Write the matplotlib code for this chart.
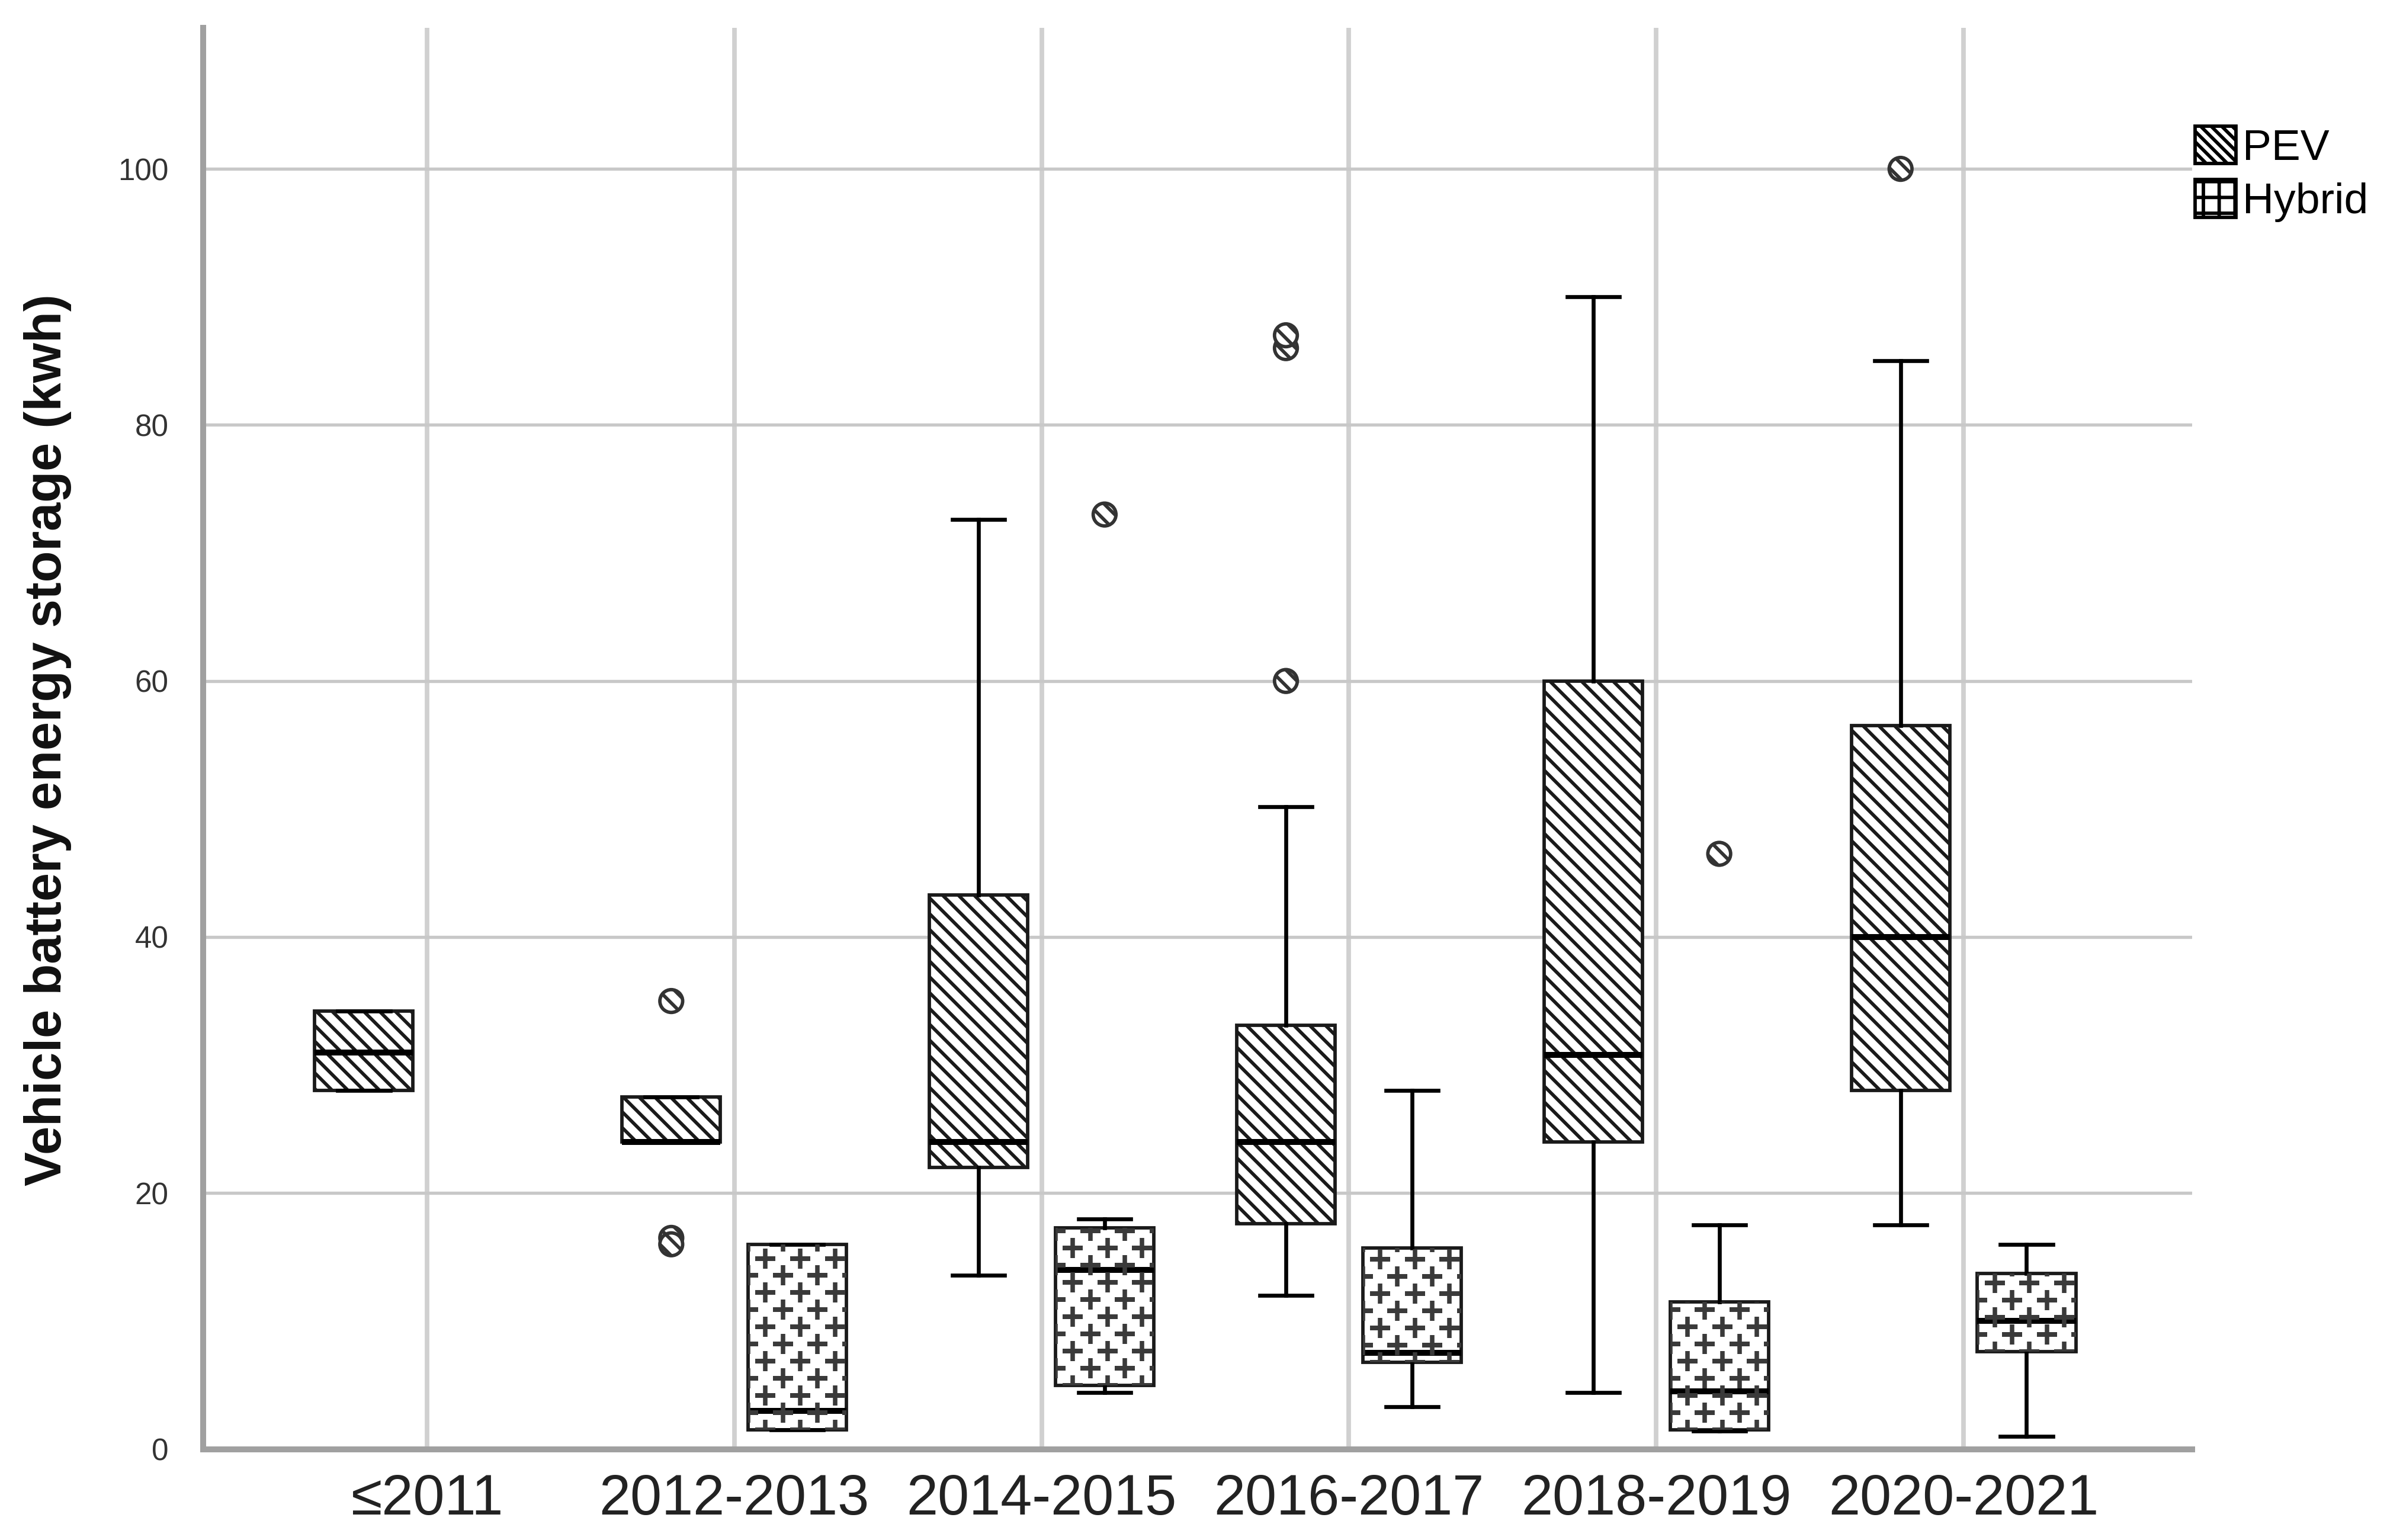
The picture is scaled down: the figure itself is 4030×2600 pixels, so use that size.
import numpy as np
import matplotlib
matplotlib.use("Agg")
import matplotlib.pyplot as plt
from matplotlib.patches import Patch

# data
categories = ["≤2011", "2012-2013", "2014-2015", "2016-2017", "2018-2019", "2020-2021"]

pev_q1 = [28.0, 24.0, 22.0, 17.6, 24.0, 28.0]
pev_med = [31.0, 24.0, 24.0, 24.0, 30.8, 40.0]
pev_q3 = [34.2, 27.5, 43.3, 33.1, 60.0, 56.5]
pev_lo = [28.0, 24.0, 13.6, 12.0, 4.4, 17.5]
pev_hi = [34.2, 27.5, 72.6, 50.2, 90.0, 85.0]
pev_out = [[], [35.0, 16.5, 16.0], [], [60.0, 86.0, 87.0], [], [100.0]]

hyb_q1 = [np.nan, 1.5, 5.0, 6.8, 1.5, 7.6]
hyb_med = [np.nan, 3.0, 14.0, 7.5, 4.5, 10.0]
hyb_q3 = [np.nan, 16.0, 17.3, 15.7, 11.5, 13.7]
hyb_lo = [np.nan, 1.5, 4.4, 3.3, 1.4, 1.0]
hyb_hi = [np.nan, 16.0, 18.0, 28.0, 17.5, 16.0]
hyb_out = [[], [], [73.0], [], [46.5], []]

series_names = ["PEV", "Hybrid"]

plt.rcParams["font.family"] = ["Liberation Sans", "DejaVu Sans"]
plt.rcParams["hatch.linewidth"] = 2.6
plt.rcParams["hatch.color"] = "#222222"

DPI = 160
fig = plt.figure(figsize=(4030 / DPI, 2600 / DPI), dpi=DPI)
ax = fig.add_axes([0.085, 0.059, 0.8334, 0.9228])

x = np.arange(len(categories))
offset = 0.205
box_w = 0.32


def make_stats(q1, med, q3, lo, hi):
    stats, pos = [], []
    for i in range(len(q1)):
        if np.isnan(q1[i]):
            continue
        stats.append(dict(q1=q1[i], med=med[i], q3=q3[i], whislo=lo[i], whishi=hi[i], fliers=[]))
        pos.append(i)
    return stats, np.array(pos)


common = dict(
    widths=box_w,
    capwidths=0.17,
    patch_artist=True,
    showfliers=False,
    whiskerprops=dict(color="black", linewidth=3.0),
    capprops=dict(color="black", linewidth=3.0),
    medianprops=dict(color="black", linewidth=4.5, solid_capstyle="butt"),
    manage_ticks=False,
)

# PEV boxes
st, pos = make_stats(pev_q1, pev_med, pev_q3, pev_lo, pev_hi)
bp_pev = ax.bxp(st, positions=pos - offset,
                boxprops=dict(facecolor="white", edgecolor="#1a1a1a", linewidth=2.6, hatch="\\\\"),
                **common)

# Hybrid boxes
st, pos = make_stats(hyb_q1, hyb_med, hyb_q3, hyb_lo, hyb_hi)
bp_hyb = ax.bxp(st, positions=pos + offset,
                boxprops=dict(facecolor="white", edgecolor="#1a1a1a", linewidth=2.6),
                **common)

# plus-sign texture inside hybrid boxes (clipped to each box)
dx, dy = 0.113, 1.34
for box, p in zip(bp_hyb["boxes"], pos + offset):
    verts = box.get_path().vertices
    y0, y1 = verts[:, 1].min(), verts[:, 1].max()
    px, py = [], []
    for r, yy in enumerate(np.arange(y0 - dy, y1 + dy, dy)):
        shift = 0.0 if r % 2 == 0 else dx / 2
        for xx in np.arange(p - box_w / 2 - dx + shift, p + box_w / 2 + dx, dx):
            px.append(xx)
            py.append(yy)
    pl, = ax.plot(px, py, linestyle="none", marker="+", markersize=15,
                  markeredgewidth=3.4, color="#3a3a3a", zorder=2.5)
    pl.set_clip_path(box)

# outliers
for i in range(len(categories)):
    if pev_out[i]:
        ax.scatter([x[i] - offset] * len(pev_out[i]), pev_out[i], s=300,
                   facecolors="white", edgecolors="#333333", linewidths=2.6,
                   hatch="\\\\", zorder=4)
    if hyb_out[i]:
        ax.scatter([x[i] + offset] * len(hyb_out[i]), hyb_out[i], s=300,
                   facecolors="white", edgecolors="#333333", linewidths=2.6,
                   hatch="\\\\", zorder=4)

ax.set_xlim(-0.729, 5.744)
ax.set_ylim(0, 111)
ax.set_xticks(x)
ax.set_xticklabels(categories, fontsize=43, color="#222222")
ax.set_yticks(np.arange(0, 101, 20))
ax.tick_params(axis="y", length=0, pad=26, labelsize=23, labelcolor="#333333")
ax.tick_params(axis="x", length=0, pad=18)

ax.set_axisbelow(True)
ax.grid(axis="y", color="#c8c8c8", linewidth=2.4)
ax.grid(axis="x", color="#d0d0d0", linewidth=3.5)

for s in ["top", "right"]:
    ax.spines[s].set_visible(False)
for s in ["left", "bottom"]:
    ax.spines[s].set_color("#a0a0a0")
    ax.spines[s].set_linewidth(4.5)

ax.set_ylabel("Vehicle battery energy storage (kwh)", fontweight="bold",
              fontsize=39, color="#111111")
ax.yaxis.set_label_coords(-0.066, 0.499)

handles = [Patch(facecolor="white", edgecolor="black", linewidth=2.6, hatch="\\\\\\"),
           Patch(facecolor="white", edgecolor="black", linewidth=2.6, hatch="+")]
fig.legend(handles, series_names, loc="upper left", bbox_to_anchor=(0.9195, 0.918),
           frameon=False, prop=dict(size=33), handlelength=0.95,
           handleheight=0.95, handletextpad=0.15, labelspacing=0.25, borderpad=0,
           borderaxespad=0)

fig.savefig("out.png", dpi=DPI)
